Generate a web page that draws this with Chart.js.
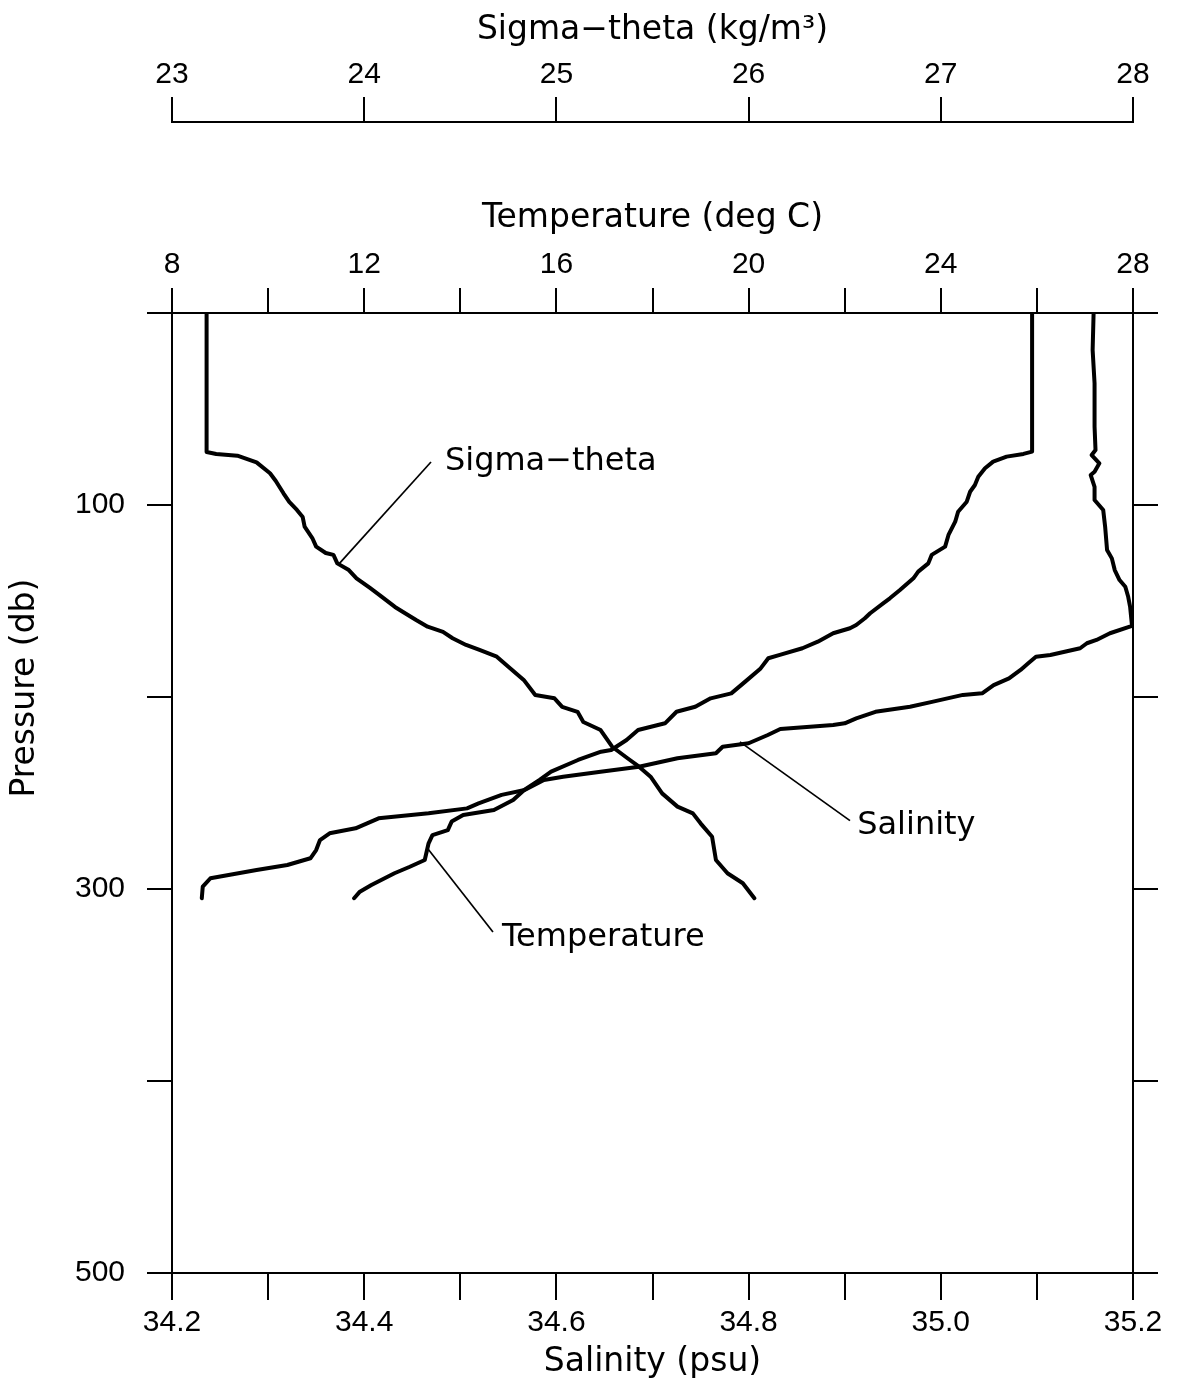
<!DOCTYPE html>
<html><head><meta charset="utf-8">
<script src="https://cdn.jsdelivr.net/npm/chart.js@4.4.1/dist/chart.umd.min.js"></script>
<style>html,body{margin:0;padding:0;background:#fff;}#wrap{width:1177px;height:1392px;}</style>
</head><body><div id="wrap"><canvas id="c" width="1177" height="1392"></canvas></div>
<script>
// ---- data ----
const pressureSigma = [0,72.4,73.4,74.3,77.8,83.5,87.5,93.9,98.4,102.6,106.3,111.3,117.2,121.7,125.0,126.0,130.4,133.9,138.2,143.2,146.9,153.1,155.6,159.9,163.4,166.1,169.4,172.9,175.5,179.0,184.2,191.1,199.0,200.7,205.1,207.7,213.0,217.2,225.9,231.9,236.3,241.5,250.2,257.1,260.6,265.8,272.8,284.9,291.8,297.0,304.8];
const sigmaTheta = [23.18,23.18,23.23,23.34,23.44,23.51,23.54,23.58,23.61,23.65,23.68,23.69,23.73,23.75,23.80,23.84,23.86,23.92,23.96,24.03,24.08,24.16,24.20,24.27,24.33,24.41,24.46,24.53,24.60,24.69,24.75,24.83,24.89,24.99,25.03,25.11,25.14,25.23,25.29,25.37,25.43,25.49,25.55,25.63,25.71,25.75,25.81,25.83,25.89,25.97,26.03];

const pressureTemp = [0,72.2,73.4,74.8,77.4,80.9,85.3,89.6,93.1,98.3,103.5,108.7,115.6,121.7,126.0,130.4,134.7,138.2,144.3,148.6,151.2,156.4,159.0,162.5,164.2,166.8,171.2,174.6,178.1,179.8,185.1,192.0,198.1,200.7,205.1,207.7,213.7,217.2,222.4,227.6,228.5,232.8,238.9,243.2,248.4,253.6,258.9,261.5,264.9,269.3,271.9,276.2,284.9,288.4,291.8,297.9,301.4,304.8];
const temperature = [25.90,25.90,25.72,25.37,25.09,24.92,24.78,24.71,24.61,24.54,24.36,24.30,24.16,24.09,23.81,23.74,23.53,23.43,23.15,22.94,22.80,22.53,22.42,22.24,22.11,21.76,21.44,21.12,20.65,20.41,20.25,19.93,19.64,19.21,18.89,18.50,18.26,17.70,17.46,17.14,16.93,16.45,15.89,15.65,15.33,15.10,14.70,14.06,13.82,13.74,13.42,13.34,13.26,12.95,12.63,12.15,11.91,11.79];

const pressureSal = [0,19.3,36.6,59.2,71.4,74.0,78.3,82.7,84.4,90.5,97.4,102.6,111.3,123.4,127.8,133.9,139.1,142.6,147.8,153.0,163.0,166.8,170.3,172.0,174.6,178.1,179.0,182.4,185.9,190.3,193.8,198.1,198.9,202.4,205.1,207.7,211.1,213.7,214.6,216.7,219.8,224.1,225.9,229.3,231.9,236.3,238.9,241.5,243.2,248.4,251.0,255.4,258.0,260.6,263.2,265.8,268.4,271.0,274.5,279.7,284.0,287.5,290.1,294.4,298.8,304.8];
const salinity = [35.159,35.158,35.160,35.160,35.161,35.157,35.165,35.160,35.156,35.160,35.160,35.169,35.171,35.173,35.178,35.181,35.186,35.192,35.195,35.197,35.199,35.176,35.162,35.152,35.145,35.114,35.099,35.091,35.083,35.071,35.055,35.043,35.023,34.992,34.968,34.932,34.912,34.900,34.888,34.833,34.820,34.800,34.773,34.766,34.726,34.686,34.646,34.607,34.587,34.567,34.543,34.519,34.507,34.467,34.415,34.403,34.391,34.364,34.354,34.350,34.344,34.320,34.288,34.240,34.232,34.231];

// ---- tick labels ----
const pressureLabels = [100,300,500];
const temperatureLabels = [8,12,16,20,24,28];
const sigmaLabels = [23,24,25,26,27,28];
const salinityLabels = [34.2,34.4,34.6,34.8,35.0,35.2];

// ---- curve labels with leader lines (data units: salinity, pressure) ----
const curveLabels = [
  {text:'Sigma\u2212theta', at:[34.484,77.3], from:[34.4695,77.6], to:[34.3738,130.7]},
  {text:'Salinity', at:[34.913,267.0], from:[34.9055,264.4], to:[34.7910,223.4]},
  {text:'Temperature', at:[34.5434,325.5], from:[34.5340,322.4], to:[34.4664,279.2]}
];

const has = (arr, v) => arr.some(l => Math.abs(l - v) < 1e-6);
const TICK_FONT = {family:'"Liberation Sans", Arial, sans-serif', size:30};
const TITLE_FONT = {family:'"DejaVu Sans", sans-serif', size:33};
const gridOpts = (len) => ({drawOnChartArea:false, drawTicks:true, tickLength:len, color:'#000', lineWidth:2});
const borderOpts = {display:true, color:'#000', width:2};

const leaderPlugin = {
  id:'leaders',
  afterDatasetsDraw(chart){
    const {ctx} = chart; const x = chart.scales.x, y = chart.scales.y;
    ctx.save();
    ctx.strokeStyle = '#000'; ctx.fillStyle = '#000'; ctx.lineWidth = 1.7;
    ctx.font = '32px "DejaVu Sans"'; ctx.textBaseline = 'middle'; ctx.textAlign = 'left';
    curveLabels.forEach(a => {
      ctx.beginPath();
      ctx.moveTo(x.getPixelForValue(a.from[0]), y.getPixelForValue(a.from[1]));
      ctx.lineTo(x.getPixelForValue(a.to[0]), y.getPixelForValue(a.to[1]));
      ctx.stroke();
      ctx.fillText(a.text, x.getPixelForValue(a.at[0]), y.getPixelForValue(a.at[1]));
    });
    ctx.restore();
  }
};

const mk = (xs, ps) => ps.map((p, i) => ({x: xs[i], y: p}));
const lineStyle = {showLine:true, pointRadius:0, borderColor:'#000', borderWidth:4, fill:false, tension:0, borderJoinStyle:'round', borderCapStyle:'round'};

new Chart(document.getElementById('c'), {
  type:'scatter',
  data:{datasets:[
    Object.assign({label:'Sigma-theta', data:mk(sigmaTheta, pressureSigma), xAxisID:'xS', yAxisID:'y'}, lineStyle),
    Object.assign({label:'Temperature', data:mk(temperature, pressureTemp), xAxisID:'xT', yAxisID:'y'}, lineStyle),
    Object.assign({label:'Salinity', data:mk(salinity, pressureSal), xAxisID:'x', yAxisID:'y'}, lineStyle)
  ]},
  options:{
    responsive:false, animation:false, devicePixelRatio:1,
    layout:{padding:0},
    plugins:{legend:{display:false}, tooltip:{enabled:false}},
    scales:{
      x:{type:'linear', position:'bottom', min:34.2, max:35.2,
        ticks:{stepSize:0.1, autoSkip:false, maxRotation:0, color:'#000', font:TICK_FONT, padding:5,
          callback:v => has(salinityLabels, v) ? Number(v).toFixed(1) : ''},
        grid:gridOpts(27), border:borderOpts,
        title:{display:true, text:'Salinity (psu)', color:'#000', font:TITLE_FONT, padding:{top:0, bottom:10}},
        afterFit:s => { s.height = 119; }},
      xT:{type:'linear', position:'top', weight:0, min:8, max:28,
        ticks:{stepSize:2, autoSkip:false, maxRotation:0, color:'#000', font:TICK_FONT, padding:5,
          callback:v => has(temperatureLabels, v) ? String(v) : ''},
        grid:gridOpts(25), border:borderOpts,
        title:{display:true, text:'Temperature (deg C)', color:'#000', font:TITLE_FONT, padding:{top:77, bottom:0}},
        afterFit:s => { s.height = 191; }},
      xS:{type:'linear', position:'top', weight:1, min:23, max:28,
        ticks:{stepSize:1, autoSkip:false, maxRotation:0, color:'#000', font:TICK_FONT, padding:4,
          callback:v => has(sigmaLabels, v) ? String(v) : ''},
        grid:gridOpts(25), border:borderOpts,
        title:{display:true, text:'Sigma\u2212theta (kg/m\u00b3)', color:'#000', font:TITLE_FONT, padding:{top:11, bottom:0}},
        afterFit:s => { s.height = 122; }},
      y:{type:'linear', position:'left', reverse:true, min:0, max:500,
        ticks:{stepSize:100, autoSkip:false, color:'#000', font:TICK_FONT, padding:22,
          callback:v => has(pressureLabels, v) ? String(v) : ''},
        grid:gridOpts(25), border:borderOpts,
        title:{display:true, text:'\u00a0'.repeat(20) + 'Pressure (db)', color:'#000', font:TITLE_FONT, padding:{top:6, bottom:0}},
        afterFit:s => { s.width = 172; }},
      y2:{type:'linear', position:'right', reverse:true, min:0, max:500,
        ticks:{stepSize:100, autoSkip:false, color:'#000', font:TICK_FONT, padding:0, callback:() => ''},
        grid:gridOpts(25), border:borderOpts,
        afterFit:s => { s.width = 44; }}
    }
  },
  plugins:[leaderPlugin]
});
</script>
</body></html>
